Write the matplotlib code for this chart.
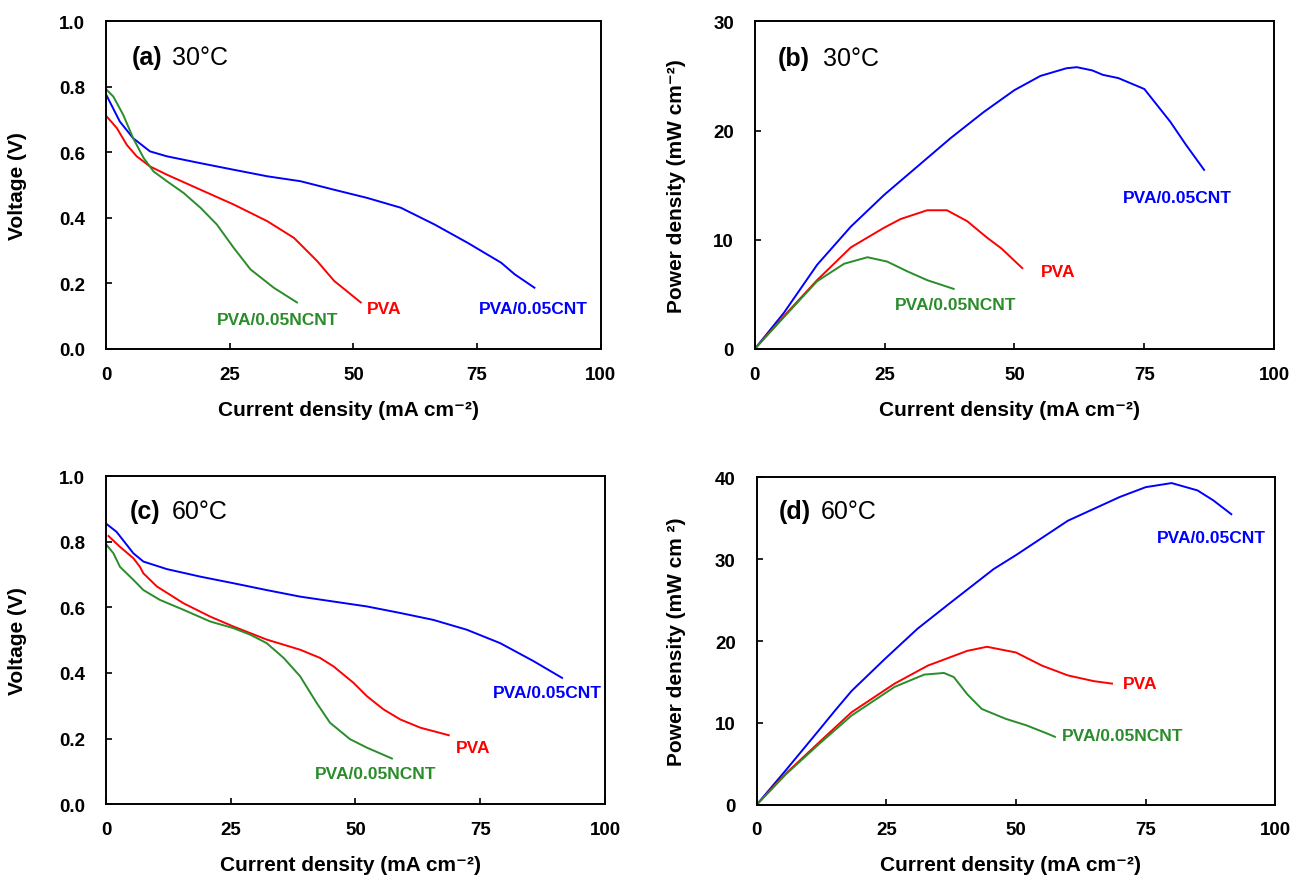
import numpy as np
import matplotlib
matplotlib.use('Agg')
import matplotlib.pyplot as plt

plt.rcParams['font.family'] = ['Liberation Sans', 'DejaVu Sans']

blue = '#0000FF'
red = '#FF0000'
green = '#2A8C2A'

# (a) 30 C polarization
a_cnt_i = [0, 2.8, 5.5, 8.9, 12.3, 19.1, 25.8, 32.6, 39.3, 46.1, 52.8, 59.6, 66.4, 73.1, 79.9, 82.6, 86.6]
a_cnt_v = [0.777, 0.694, 0.643, 0.603, 0.588, 0.567, 0.547, 0.527, 0.512, 0.486, 0.461, 0.431, 0.380, 0.324, 0.263, 0.228, 0.187]
a_pva_i = [0, 2.2, 4.2, 6.2, 8.9, 12.3, 19.1, 25.8, 32.6, 38.0, 42.7, 46.1, 51.5]
a_pva_v = [0.712, 0.674, 0.623, 0.588, 0.557, 0.532, 0.486, 0.441, 0.390, 0.339, 0.268, 0.208, 0.142]
a_ncnt_i = [0, 1.5, 3.5, 5.5, 7.6, 9.6, 12.3, 15.7, 19.1, 22.4, 25.8, 29.2, 33.9, 38.6]
a_ncnt_v = [0.793, 0.770, 0.714, 0.643, 0.583, 0.542, 0.512, 0.476, 0.431, 0.380, 0.309, 0.243, 0.187, 0.142]

# (b) 30 C power
b_cnt_i = [0, 5.6, 12.0, 18.5, 24.9, 31.3, 37.7, 44.1, 50, 55, 60, 62, 65, 67, 70, 75, 80, 83, 86.5]
b_cnt_p = [0, 3.3, 7.7, 11.2, 14.1, 16.7, 19.3, 21.7, 23.7, 25.0, 25.7, 25.8, 25.5, 25.1, 24.8, 23.8, 20.8, 18.7, 16.4]
b_pva_i = [0, 5.6, 12.0, 18.5, 21.7, 24.9, 28.1, 33.2, 37.0, 40.9, 44.7, 47.5, 51.5]
b_pva_p = [0, 3.0, 6.3, 9.3, 10.2, 11.1, 11.9, 12.7, 12.7, 11.7, 10.2, 9.2, 7.4]
b_ncnt_i = [0, 5.6, 12.0, 17.2, 21.7, 25.5, 29.4, 33.2, 38.3]
b_ncnt_p = [0, 2.9, 6.2, 7.8, 8.4, 8.0, 7.1, 6.3, 5.5]

# (c) 60 C polarization
c_cnt_i = [0, 2.1, 5.5, 7.5, 12.2, 18.9, 25.5, 32.2, 38.9, 45.6, 52.3, 59.0, 65.6, 72.3, 79.0, 85.7, 91.4]
c_cnt_v = [0.856, 0.831, 0.765, 0.740, 0.717, 0.694, 0.674, 0.653, 0.633, 0.618, 0.603, 0.583, 0.562, 0.532, 0.491, 0.436, 0.385]
c_pva_i = [0.5, 2.8, 5.5, 6.8, 7.5, 10.2, 15.5, 20.9, 25.5, 32.2, 38.9, 42.9, 45.6, 49.6, 52.3, 55.6, 59.0, 63.0, 68.7]
c_pva_v = [0.818, 0.785, 0.750, 0.724, 0.704, 0.664, 0.613, 0.572, 0.542, 0.502, 0.471, 0.446, 0.420, 0.370, 0.329, 0.289, 0.258, 0.233, 0.210]
c_ncnt_i = [0, 1.5, 2.8, 5.5, 7.5, 10.8, 15.5, 20.9, 25.5, 28.9, 32.2, 35.6, 38.9, 42.2, 44.9, 48.9, 52.3, 57.3]
c_ncnt_v = [0.793, 0.765, 0.724, 0.684, 0.653, 0.623, 0.593, 0.557, 0.537, 0.517, 0.491, 0.446, 0.390, 0.309, 0.248, 0.198, 0.172, 0.139]

# (d) 60 C power
d_cnt_i = [0, 5.6, 12.0, 15.1, 18.3, 24.7, 31.0, 37.4, 45.7, 50, 60, 70, 75, 80, 85, 88, 91.5]
d_cnt_p = [0, 4.2, 9.1, 11.5, 13.9, 17.8, 21.5, 24.7, 28.8, 30.5, 34.7, 37.6, 38.8, 39.3, 38.4, 37.2, 35.5]
d_pva_i = [0, 5.6, 12.0, 18.3, 26.6, 33.0, 40.6, 44.4, 50, 55, 60, 65, 68.5]
d_pva_p = [0, 3.8, 7.6, 11.3, 14.8, 17.0, 18.8, 19.3, 18.6, 17.0, 15.8, 15.1, 14.8]
d_ncnt_i = [0, 5.6, 12.0, 18.3, 26.6, 32.3, 36.1, 38.0, 40.6, 43.4, 45.7, 48, 52, 56, 57.5]
d_ncnt_p = [0, 3.7, 7.4, 10.9, 14.4, 15.9, 16.1, 15.6, 13.5, 11.7, 11.1, 10.5, 9.7, 8.7, 8.3]

xlab = 'Current density (mA cm\u207b\u00b2)'

fig = plt.figure(figsize=(12.91, 8.78), dpi=100)
axa = fig.add_axes([0.0821, 0.6014, 0.3832, 0.3732])
axb = fig.add_axes([0.5846, 0.6014, 0.4024, 0.3732])
axc = fig.add_axes([0.0821, 0.0831, 0.3865, 0.3732])
axd = fig.add_axes([0.5861, 0.0823, 0.4018, 0.3729])

panels = [
    (axa, [(a_cnt_i, a_cnt_v, blue), (a_pva_i, a_pva_v, red), (a_ncnt_i, a_ncnt_v, green)],
     1.0, 0.2, 'Voltage (V)', '(a)', '30\u00b0C', (0.052, 0.133, 0.89), -0.16,
     [(75.3, 0.125, 'PVA/0.05CNT', blue), (52.8, 0.125, 'PVA', red), (22.4, 0.091, 'PVA/0.05NCNT', green)]),
    (axb, [(b_cnt_i, b_cnt_p, blue), (b_pva_i, b_pva_p, red), (b_ncnt_i, b_ncnt_p, green)],
     30, 10, 'Power density (mW cm\u207b\u00b2)', '(b)', '30\u00b0C', (0.044, 0.131, 0.888), -0.132,
     [(70.9, 13.9, 'PVA/0.05CNT', blue), (55, 7.1, 'PVA', red), (27, 4.1, 'PVA/0.05NCNT', green)]),
    (axc, [(c_cnt_i, c_cnt_v, blue), (c_pva_i, c_pva_v, red), (c_ncnt_i, c_ncnt_v, green)],
     1.0, 0.2, 'Voltage (V)', '(c)', '60\u00b0C', (0.048, 0.132, 0.895), -0.158,
     [(77.5, 0.341, 'PVA/0.05CNT', blue), (70.2, 0.172, 'PVA', red), (41.9, 0.094, 'PVA/0.05NCNT', green)]),
    (axd, [(d_cnt_i, d_cnt_p, blue), (d_pva_i, d_pva_p, red), (d_ncnt_i, d_ncnt_p, green)],
     40, 10, 'Power density (mW cm \u00b2)', '(d)', '60\u00b0C', (0.043, 0.124, 0.898), -0.136,
     [(77.1, 32.6, 'PVA/0.05CNT', blue), (70.6, 14.8, 'PVA', red), (58.8, 8.5, 'PVA/0.05NCNT', green)]),
]

for ax, curves, ymax, ystep, ylab, tag, temp, tpos, ylx, labels in panels:
    for x, y, c in curves:
        ax.plot(x, y, color=c, lw=1.4)
    ax.set_xlim(0, 100)
    ax.set_ylim(0, ymax)
    ax.set_xticks([0, 25, 50, 75, 100])
    yt = np.arange(0, ymax + ystep / 2, ystep)
    ax.set_yticks(yt)
    if ymax == 1.0:
        ax.set_yticklabels(['%.1f' % v for v in yt])
    ax.tick_params(direction='in', length=4, width=1.2, labelsize=13.5)
    ax.tick_params(axis='y', pad=15)
    ax.tick_params(axis='x', pad=12)
    for lab in ax.get_xticklabels() + ax.get_yticklabels():
        lab.set_fontweight('bold')
    for s in ax.spines.values():
        s.set_linewidth(1.4)
    ax.set_xlabel(xlab, fontsize=15, fontweight='bold')
    ax.xaxis.set_label_coords(0.49, -0.155)
    ax.set_ylabel(ylab, fontsize=15, fontweight='bold')
    ax.yaxis.set_label_coords(ylx, 0.5)
    ax.text(tpos[0], tpos[2], tag, transform=ax.transAxes, fontsize=18, fontweight='bold', va='center')
    ax.text(tpos[1], tpos[2], temp, transform=ax.transAxes, fontsize=18, va='center')
    for x, y, t, c in labels:
        ax.text(x, y, t, color=c, fontsize=12.5, fontweight='bold', va='center', ha='left')

fig.savefig('out.png', dpi=100)
